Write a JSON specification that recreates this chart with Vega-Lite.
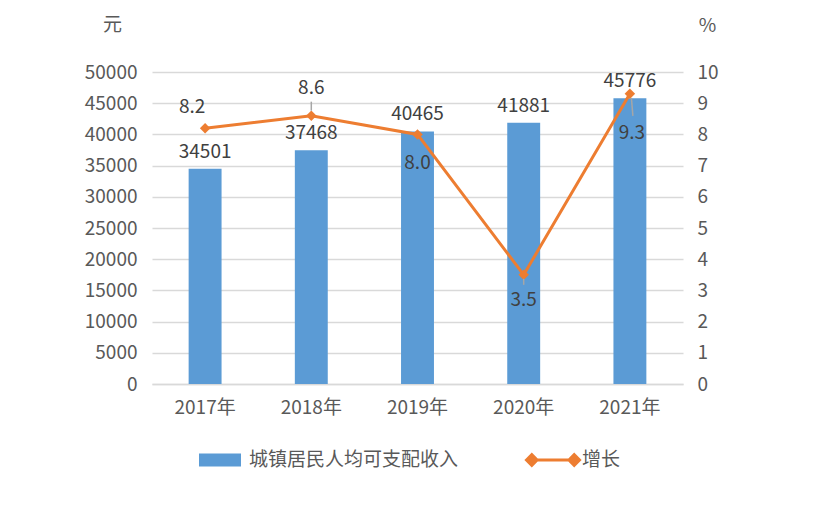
{
  "$schema": "https://vega.github.io/schema/vega-lite/v6.json",
  "width": 531,
  "height": 312,
  "autosize": {"type": "none"},
  "padding": {"left": 152, "top": 72, "right": 152, "bottom": 126},
  "config": {
    "font": "Noto Sans CJK SC",
    "view": {"stroke": null},
    "axis": {"labelFont": "Noto Sans CJK SC", "titleFont": "Noto Sans CJK SC"},
    "legend": {"padding": 0}
  },
  "data": {
    "values": [
      {"year": "2017年", "income": 34501, "growth": 8.2},
      {"year": "2018年", "income": 37468, "growth": 8.6},
      {"year": "2019年", "income": 40465, "growth": 8.0},
      {"year": "2020年", "income": 41881, "growth": 3.5},
      {"year": "2021年", "income": 45776, "growth": 9.3}
    ]
  },
  "encoding": {
    "x": {
      "field": "year",
      "type": "nominal",
      "sort": null,
      "scale": {"paddingInner": 0.69, "paddingOuter": 0.345},
      "axis": {
        "title": null,
        "labelAngle": 0,
        "labelFontSize": 19,
        "labelColor": "#595959",
        "labelPadding": 14,
        "ticks": false,
        "domainColor": "#D9D9D9",
        "domainWidth": 1.5
      }
    }
  },
  "layer": [
    {
      "encoding": {
        "y": {
          "field": "income",
          "type": "quantitative",
          "scale": {"domain": [0, 50000]},
          "axis": {
            "title": "元",
            "titleAngle": 0,
            "titleX": -40,
            "titleY": -48,
            "titleAlign": "center",
            "titleBaseline": "middle",
            "titleFontSize": 19,
            "titleFontWeight": "normal",
            "titleColor": "#595959",
            "values": [0, 5000, 10000, 15000, 20000, 25000, 30000, 35000, 40000, 45000, 50000],
            "format": "d",
            "labelFontSize": 19,
            "labelColor": "#595959",
            "labelPadding": 15,
            "ticks": false,
            "domain": false,
            "grid": true,
            "gridColor": "#D9D9D9",
            "gridWidth": 1.5
          }
        }
      },
      "layer": [
        {
          "mark": {"type": "bar"},
          "encoding": {
            "fill": {
              "datum": "城镇居民人均可支配收入",
              "type": "nominal",
              "scale": {"range": ["#5B9BD5"]},
              "legend": {
                "title": null,
                "orient": "none",
                "direction": "horizontal",
                "legendX": 47,
                "legendY": 367,
                "symbolType": "M-1,-0.31L1,-0.31L1,0.31L-1,0.31Z",
                "symbolSize": 1764,
                "symbolFillColor": "#5B9BD5",
                "symbolStrokeWidth": 0,
                "symbolOpacity": 1,
                "labelFontSize": 19,
                "labelColor": "#595959",
                "labelOffset": 8,
                "labelLimit": 500
              }
            }
          }
        },
        {
          "mark": {"type": "text", "fontSize": 19, "color": "#404040", "baseline": "middle", "dy": -17},
          "encoding": {"text": {"field": "income", "type": "quantitative", "format": "d"}}
        }
      ]
    },
    {
      "encoding": {
        "y": {
          "field": "growth",
          "type": "quantitative",
          "scale": {"domain": [0, 10]},
          "axis": {
            "orient": "right",
            "title": "%",
            "titleAngle": 0,
            "titleX": 24,
            "titleY": -47,
            "titleAlign": "center",
            "titleBaseline": "middle",
            "titleFontSize": 19,
            "titleFontWeight": "normal",
            "titleColor": "#595959",
            "values": [0, 1, 2, 3, 4, 5, 6, 7, 8, 9, 10],
            "labelFontSize": 19,
            "labelColor": "#595959",
            "labelPadding": 14,
            "ticks": false,
            "domain": false,
            "grid": false
          }
        }
      },
      "layer": [
        {
          "mark": {"type": "line", "strokeWidth": 3},
          "encoding": {
            "stroke": {
              "datum": "增长",
              "type": "nominal",
              "scale": {"range": ["#ED7D31"]},
              "legend": {
                "title": null,
                "orient": "none",
                "direction": "horizontal",
                "legendX": 373,
                "legendY": 360,
                "symbolType": "M-1,0L-0.8,-0.2L-0.6,0L-0.8,0.2Z M0.6,0L0.8,-0.2L1,0L0.8,0.2Z M-0.8,0L0.8,0",
                "symbolSize": 2809,
                "symbolFillColor": "#ED7D31",
                "symbolStrokeColor": "#ED7D31",
                "symbolStrokeWidth": 3,
                "symbolOpacity": 1,
                "labelFontSize": 19,
                "labelColor": "#595959",
                "labelOffset": 1,
                "labelLimit": 500
              }
            }
          }
        },
        {
          "mark": {"type": "point", "shape": "diamond", "size": 110, "filled": true, "color": "#ED7D31", "opacity": 1}
        },
        {
          "transform": [{"filter": {"field": "year", "equal": "2018年"}}],
          "mark": {"type": "rule", "color": "#A6A6A6", "strokeWidth": 1.5, "yOffset": -5, "y2Offset": -14},
          "encoding": {"y2": {"field": "growth"}}
        },
        {
          "transform": [{"filter": {"field": "year", "equal": "2020年"}}],
          "mark": {"type": "rule", "color": "#A6A6A6", "strokeWidth": 1.5, "yOffset": 4, "y2Offset": 10},
          "encoding": {"y2": {"field": "growth"}}
        },
        {
          "transform": [{"filter": {"field": "year", "equal": "2021年"}}],
          "mark": {"type": "rule", "color": "#A6A6A6", "strokeWidth": 1.5, "xOffset": 1.5, "yOffset": 4, "x2Offset": 3, "y2Offset": 22},
          "encoding": {"x2": {"field": "year"}, "y2": {"field": "growth"}}
        },
        {
          "transform": [{"filter": {"field": "year", "equal": "2017年"}}],
          "mark": {"type": "text", "fontSize": 19, "color": "#404040", "baseline": "middle", "dx": -13, "dy": -21},
          "encoding": {"text": {"field": "growth", "type": "quantitative", "format": ".1f"}}
        },
        {
          "transform": [{"filter": {"field": "year", "equal": "2018年"}}],
          "mark": {"type": "text", "fontSize": 19, "color": "#404040", "baseline": "middle", "dx": 0, "dy": -28},
          "encoding": {"text": {"field": "growth", "type": "quantitative", "format": ".1f"}}
        },
        {
          "transform": [{"filter": {"field": "year", "equal": "2019年"}}],
          "mark": {"type": "text", "fontSize": 19, "color": "#404040", "baseline": "middle", "dx": 0, "dy": 29},
          "encoding": {"text": {"field": "growth", "type": "quantitative", "format": ".1f"}}
        },
        {
          "transform": [{"filter": {"field": "year", "equal": "2020年"}}],
          "mark": {"type": "text", "fontSize": 19, "color": "#404040", "baseline": "middle", "dx": 0, "dy": 25},
          "encoding": {"text": {"field": "growth", "type": "quantitative", "format": ".1f"}}
        },
        {
          "transform": [{"filter": {"field": "year", "equal": "2021年"}}],
          "mark": {"type": "text", "fontSize": 19, "color": "#404040", "baseline": "middle", "dx": 2, "dy": 39},
          "encoding": {"text": {"field": "growth", "type": "quantitative", "format": ".1f"}}
        }
      ]
    }
  ],
  "resolve": {"scale": {"y": "independent"}}
}
